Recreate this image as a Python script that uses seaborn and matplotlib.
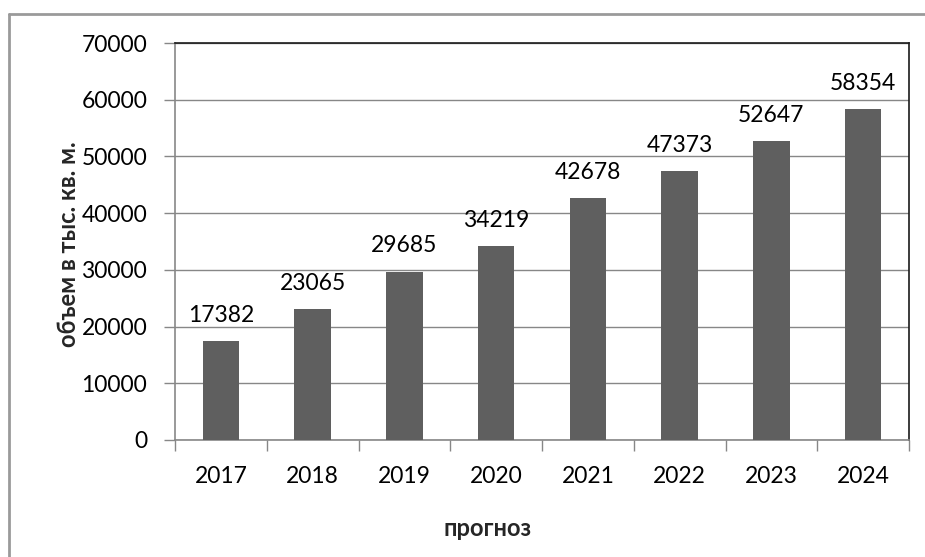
import matplotlib
matplotlib.use("Agg")
import matplotlib.pyplot as plt
import seaborn as sns
import pandas as pd
from matplotlib.lines import Line2D

years = ["2017", "2018", "2019", "2020", "2021", "2022", "2023", "2024"]
values = [17382, 23065, 29685, 34219, 42678, 47373, 52647, 58354]
yticks = [0, 10000, 20000, 30000, 40000, 50000, 60000, 70000]
xlabel = "прогноз"
ylabel = "объем в тыс. кв. м."

sns.set_theme(style="white")
plt.rcParams["font.family"] = ["Lato", "DejaVu Sans"]

df = pd.DataFrame({"year": years, "value": values})

fig = plt.figure(figsize=(9.25, 5.57), dpi=100)
ax = fig.add_axes([175/925, 1-440/557, (909-175)/925, (440-43)/557])

sns.barplot(data=df, x="year", y="value", color="#5f5f5f", saturation=1,
            width=0.4, ax=ax, zorder=3)
for p in ax.patches:
    p.set_edgecolor("none")

ax.set_ylim(0, 70000)
ax.set_xlim(-0.5, len(years) - 0.5)
ax.set_yticks(yticks)
ax.set_yticklabels([str(v) for v in yticks])
ax.yaxis.grid(True, color="#878787", linewidth=1, zorder=0)
ax.set_axisbelow(True)

for c in ax.containers:
    ax.bar_label(c, labels=[str(v) for v in values], padding=11, fontsize=16.5, color="black")

ax.tick_params(axis="y", which="major", length=8, width=1, color="#878787",
               labelsize=16.5, labelcolor="black", pad=12, left=True)
ax.tick_params(axis="x", which="major", length=0, labelsize=16.5, labelcolor="black", pad=19)
ax.set_xticks([i - 0.5 for i in range(len(years) + 1)], minor=True)
ax.tick_params(axis="x", which="minor", length=8, width=1, color="#878787", bottom=True)

for s in ["left", "bottom"]:
    ax.spines[s].set_color("#878787")
    ax.spines[s].set_linewidth(1.2)
for s in ["top", "right"]:
    ax.spines[s].set_color("#1a1a1a")
    ax.spines[s].set_linewidth(1.2)

ax.set_xlabel(xlabel, fontsize=17, fontweight="bold")
ax.set_ylabel(ylabel, fontsize=17, fontweight="bold")
ax.xaxis.set_label_coords((488-175)/734, -(528-440)/397)
ax.xaxis.label.set_va("center")
ax.yaxis.set_label_coords((68-175)/734, (440-244)/397)
ax.yaxis.label.set_va("center")

# outer chart border (left and top visible)
fig.add_artist(Line2D([8.5/925, 8.5/925], [0, 1-14/557], transform=fig.transFigure,
                      color="#9a9a9a", linewidth=2))
fig.add_artist(Line2D([8.5/925, 1], [1-14/557, 1-14/557], transform=fig.transFigure,
                      color="#9a9a9a", linewidth=2))

fig.savefig("out.png", dpi=100)
